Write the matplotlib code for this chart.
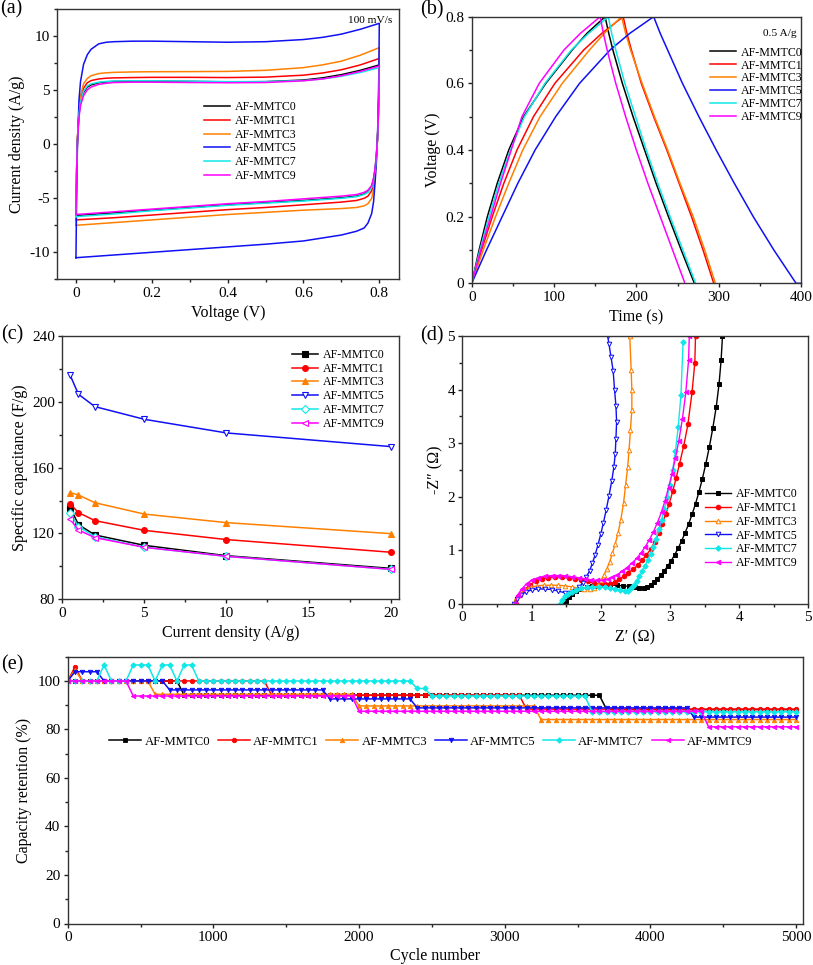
import matplotlib
matplotlib.use('Agg')
import matplotlib.pyplot as plt
from matplotlib.ticker import MultipleLocator, FuncFormatter

plt.rcParams['font.family'] = ['Liberation Serif', 'DejaVu Serif']
plt.rcParams['axes.unicode_minus'] = False

# ---------------- common ----------------
names = ['AF-MMTC0', 'AF-MMTC1', 'AF-MMTC3', 'AF-MMTC5', 'AF-MMTC7', 'AF-MMTC9']
colors = ['#000000', '#FF0000', '#FF8000', '#1010F5', '#10E8E8', '#FF00FF']

# ---------------- (a) CV at 100 mV/s ----------------
cv_v_up = [0.000, 0.002, 0.004, 0.008, 0.012, 0.020, 0.030, 0.040, 0.060, 0.080, 0.100,
           0.150, 0.200, 0.300, 0.400, 0.500, 0.600, 0.650, 0.700, 0.750, 0.800]
cv_v_down = [0.800, 0.799, 0.797, 0.795, 0.792, 0.789, 0.785, 0.780, 0.770, 0.760, 0.740,
             0.700, 0.600, 0.500, 0.400, 0.300, 0.200, 0.100, 0.000]
cv_up_0 = [-6.6, -2.0, 0.5, 2.8, 3.9, 4.8, 5.3, 5.5, 5.7, 5.78, 5.82, 5.85, 5.85, 5.82, 5.78, 5.8, 5.95, 6.15, 6.45, 6.85, 7.35]
cv_up_1 = [-7.0, -2.2, 0.6, 3.0, 4.2, 5.2, 5.7, 5.9, 6.05, 6.12, 6.15, 6.18, 6.2, 6.2, 6.18, 6.22, 6.4, 6.6, 6.9, 7.35, 7.95]
cv_up_3 = [-7.5, -2.5, 0.5, 3.2, 4.5, 5.6, 6.1, 6.35, 6.55, 6.62, 6.66, 6.7, 6.72, 6.73, 6.75, 6.85, 7.1, 7.35, 7.7, 8.25, 8.95]
cv_up_5 = [-10.5, -4.0, 0.0, 4.1, 5.8, 7.4, 8.3, 8.8, 9.3, 9.45, 9.5, 9.55, 9.55, 9.5, 9.45, 9.5, 9.7, 9.9, 10.2, 10.65, 11.2]
cv_up_7 = [-6.7, -2.0, 0.5, 2.8, 3.9, 4.9, 5.4, 5.6, 5.75, 5.82, 5.86, 5.88, 5.88, 5.85, 5.8, 5.8, 5.9, 6.05, 6.3, 6.65, 7.1]
cv_up_9 = [-6.5, -2.1, 0.3, 2.5, 3.6, 4.5, 5.05, 5.3, 5.55, 5.65, 5.72, 5.75, 5.75, 5.72, 5.7, 5.72, 5.88, 6.05, 6.35, 6.75, 7.25]
cv_dn_0 = [7.35, 4.8, 2.0, 0.4, -1.2, -2.3, -3.2, -3.9, -4.4, -4.6, -4.8, -4.95, -5.2, -5.4, -5.6, -5.85, -6.1, -6.35, -6.6]
cv_dn_1 = [7.95, 5.0, 2.0, 0.3, -1.4, -2.6, -3.6, -4.3, -4.8, -5.0, -5.2, -5.35, -5.6, -5.85, -6.05, -6.3, -6.55, -6.8, -7.0]
cv_dn_3 = [8.95, 5.5, 2.2, 0.2, -1.8, -3.0, -4.2, -5.0, -5.5, -5.7, -5.85, -5.95, -6.1, -6.3, -6.5, -6.75, -7.0, -7.25, -7.5]
cv_dn_5 = [11.2, 7.0, 3.0, 0.5, -1.8, -3.5, -5.3, -6.4, -7.3, -7.75, -8.05, -8.4, -8.95, -9.25, -9.5, -9.75, -10.0, -10.25, -10.5]
cv_dn_7 = [7.1, 4.6, 1.9, 0.3, -1.3, -2.4, -3.3, -4.0, -4.45, -4.65, -4.85, -5.0, -5.25, -5.45, -5.65, -5.9, -6.15, -6.45, -6.7]
cv_dn_9 = [7.25, 4.7, 1.9, 0.4, -1.1, -2.2, -3.1, -3.8, -4.25, -4.45, -4.65, -4.8, -5.05, -5.3, -5.5, -5.75, -6.0, -6.25, -6.5]

# ---------------- (b) GCD at 0.5 A/g ----------------
gcd_v_charge = [0.0, 0.1, 0.2, 0.3, 0.4, 0.5, 0.6, 0.7, 0.75, 0.8]
gcd_v_discharge = [0.8, 0.75, 0.7, 0.6, 0.5, 0.4, 0.3, 0.2, 0.1, 0.0]
tc_0 = [0, 9, 19, 31, 45, 63, 90, 122, 140, 162]
tc_1 = [0, 12, 25, 39, 55, 75, 101, 136, 158, 184]
tc_3 = [0, 14, 29, 45, 62, 83, 110, 143, 161, 182]
tc_5 = [0, 18, 37, 56, 77, 102, 131, 168, 192, 221]
tc_7 = [0, 10, 21, 33, 47, 64, 89, 121, 142, 166]
tc_9 = [0, 11, 23, 35, 48, 61, 82, 112, 132, 156]
td_0 = [162, 166.5, 171.5, 183, 196, 210, 224, 239, 254.5, 270.5]
td_1 = [184, 188.5, 194, 206, 221, 237, 252, 267, 281, 294]
td_3 = [182, 187, 193, 207, 222, 238, 253, 269, 283, 296]
td_5 = [221, 229, 238, 256, 276, 297, 319, 342, 367, 394]
td_7 = [166, 170, 175, 186, 199, 212, 226, 241, 256.5, 272]
td_9 = [156, 160, 164.5, 175, 187, 200, 214, 229, 244, 259]
gcd_tail_t = 400   # MMTC5 trace continues at 0 V to the end of the record
gcd_tail_v = 0.0

# ---------------- (c) rate capability ----------------
current_density = [0.5, 1, 2, 5, 10, 20]
cap_0 = [135.7, 125.4, 119.1, 112.8, 106.5, 98.8]
cap_1 = [137.9, 132.7, 127.8, 121.9, 116.3, 108.6]
cap_3 = [144.8, 143.4, 138.7, 131.8, 126.6, 119.9]
cap_5 = [216.1, 204.6, 197.1, 189.4, 181.1, 172.8]
cap_7 = [132.3, 124.2, 118.1, 111.6, 106.1, 98.2]
cap_9 = [128.6, 122.1, 117.5, 111.6, 106.1, 98.2]

# ---------------- (d) Nyquist ----------------
zr_0 = [1.47, 1.50, 1.54, 1.59, 1.65, 1.72, 1.80, 1.88, 1.96, 2.05, 2.14, 2.23, 2.32, 2.41, 2.49, 2.56, 2.62, 2.67, 2.72, 2.77, 2.82,
        2.87, 2.92, 2.97, 3.02, 3.07, 3.12, 3.17, 3.22, 3.27, 3.32, 3.37, 3.42, 3.47, 3.52, 3.57, 3.62, 3.67, 3.71, 3.74, 3.76]
zi_0 = [0.00, 0.06, 0.13, 0.19, 0.24, 0.28, 0.31, 0.33, 0.34, 0.35, 0.35, 0.35, 0.34, 0.33, 0.31, 0.30, 0.30, 0.32, 0.36, 0.41, 0.47,
        0.54, 0.62, 0.71, 0.81, 0.92, 1.04, 1.18, 1.33, 1.49, 1.67, 1.87, 2.09, 2.34, 2.62, 2.93, 3.28, 3.68, 4.10, 4.55, 5.00]
zr_1 = [0.78, 0.83, 0.90, 0.98, 1.06, 1.15, 1.24, 1.34, 1.44, 1.54, 1.63, 1.72, 1.82, 1.91, 1.99, 2.06, 2.13, 2.20, 2.27, 2.34,
        2.40, 2.47, 2.54, 2.60, 2.66, 2.72, 2.78, 2.84, 2.89, 2.94, 2.99, 3.04, 3.09, 3.14, 3.20, 3.26, 3.32, 3.36, 3.37]
zi_1 = [0.00, 0.17, 0.27, 0.36, 0.43, 0.47, 0.49, 0.50, 0.50, 0.49, 0.47, 0.45, 0.42, 0.39, 0.37, 0.37, 0.38, 0.41, 0.46, 0.52,
        0.58, 0.65, 0.73, 0.82, 0.91, 1.02, 1.16, 1.33, 1.50, 1.68, 1.87, 2.10, 2.35, 2.62, 2.95, 3.35, 3.95, 4.50, 5.00]
zr_3 = [0.74, 0.78, 0.84, 0.91, 0.99, 1.08, 1.18, 1.28, 1.38, 1.48, 1.58, 1.67, 1.76, 1.84, 1.91, 1.96, 2.01, 2.05, 2.09, 2.13,
        2.17, 2.21, 2.25, 2.29, 2.33, 2.36, 2.39, 2.41, 2.43, 2.45, 2.45, 2.44, 2.42]
zi_3 = [0.00, 0.12, 0.20, 0.27, 0.31, 0.34, 0.35, 0.35, 0.35, 0.34, 0.32, 0.30, 0.28, 0.28, 0.30, 0.36, 0.45, 0.55, 0.66, 0.79,
        0.95, 1.12, 1.32, 1.57, 1.88, 2.22, 2.55, 2.88, 3.25, 3.62, 4.00, 4.37, 5.00]
zr_5 = [0.75, 0.79, 0.85, 0.92, 1.00, 1.09, 1.19, 1.29, 1.39, 1.48, 1.56, 1.63, 1.69, 1.74, 1.79, 1.84, 1.88, 1.92, 1.96, 2.00,
        2.04, 2.08, 2.12, 2.16, 2.19, 2.21, 2.22, 2.23, 2.22, 2.20, 2.18, 2.15, 2.12, 2.10]
zi_5 = [0.00, 0.10, 0.17, 0.23, 0.26, 0.28, 0.28, 0.27, 0.24, 0.21, 0.20, 0.24, 0.31, 0.40, 0.50, 0.62, 0.76, 0.92, 1.10, 1.30,
        1.52, 1.76, 2.02, 2.30, 2.55, 2.80, 3.08, 3.40, 3.70, 4.00, 4.35, 4.60, 4.85, 5.00]
zr_7 = [1.41, 1.44, 1.48, 1.53, 1.58, 1.65, 1.72, 1.80, 1.88, 1.97, 2.06, 2.14, 2.21, 2.28, 2.35, 2.40, 2.44, 2.48, 2.52, 2.56,
        2.60, 2.64, 2.68, 2.72, 2.76, 2.80, 2.84, 2.88, 2.92, 2.96, 3.00, 3.04, 3.08, 3.12, 3.16, 3.19]
zi_7 = [0.00, 0.08, 0.14, 0.19, 0.23, 0.27, 0.29, 0.31, 0.32, 0.32, 0.32, 0.30, 0.28, 0.26, 0.24, 0.25, 0.29, 0.35, 0.43, 0.52,
        0.61, 0.71, 0.82, 0.94, 1.07, 1.22, 1.39, 1.57, 1.77, 1.99, 2.22, 2.50, 2.85, 3.30, 3.90, 4.88]
zr_9 = [0.76, 0.80, 0.86, 0.93, 1.01, 1.10, 1.19, 1.29, 1.39, 1.49, 1.58, 1.68, 1.77, 1.86, 1.95, 2.03, 2.10, 2.17, 2.24, 2.31,
        2.38, 2.45, 2.52, 2.58, 2.64, 2.70, 2.76, 2.82, 2.88, 2.93, 2.98, 3.03, 3.08, 3.13, 3.18, 3.23, 3.27, 3.28]
zi_9 = [0.00, 0.17, 0.28, 0.38, 0.45, 0.49, 0.52, 0.53, 0.53, 0.52, 0.51, 0.49, 0.47, 0.45, 0.44, 0.44, 0.46, 0.50, 0.55, 0.61,
        0.68, 0.76, 0.85, 0.95, 1.06, 1.19, 1.34, 1.52, 1.72, 1.93, 2.17, 2.43, 2.72, 3.05, 3.45, 3.95, 4.55, 5.00]

# ---------------- (e) cycling, one point every 50 cycles ----------------
cycles = list(range(0, 5001, 50))
ret_0 = [100] * 16 + [94.1] * 58 + [88.2] * 27
ret_1 = [100, 105.8] + [100] * 26 + [94.1] * 35 + [88.4] * 38
ret_3 = [100, 104.6] + [100] * 10 + [94.5] * 28 + [89.7] * 25 + [84.1] * 36
ret_5 = [100] + [103.8] * 4 + [100] * 9 + [96.3] * 22 + [92.6] * 12 + [88.9] * 38 + [85.1] * 15
ret_7 = ([100] * 5 + [106.6] + [100] * 3 + [106.6] * 3 + [100] + [106.6] * 2 + [100] + [106.6] * 2
         + [100] * 30 + [96.9] * 2 + [93.8] * 22 + [87.3] * 29)
ret_9 = [100] * 9 + [93.8] * 31 + [87.5] * 48 + [81.1] * 13

# ======================================================================
fig = plt.figure(figsize=(8.13, 9.65), dpi=100)
W, H = 813.0, 965.0


def add_ax(l, t, r, b):
    return fig.add_axes([l / W, 1 - b / H, (r - l) / W, (b - t) / H])


fmt = FuncFormatter(lambda v, p: '%g' % round(v, 6))
TICK_FS = 11
LAB_FS = 11.5
LEG_FS = 8.6


def style(ax, xmaj, xmin, ymaj, ymin):
    ax.xaxis.set_major_locator(MultipleLocator(xmaj))
    ax.xaxis.set_minor_locator(MultipleLocator(xmin))
    ax.yaxis.set_major_locator(MultipleLocator(ymaj))
    ax.yaxis.set_minor_locator(MultipleLocator(ymin))
    ax.xaxis.set_major_formatter(fmt)
    ax.yaxis.set_major_formatter(fmt)
    ax.tick_params(which='both', direction='out', top=False, right=False,
                   labelsize=TICK_FS, pad=2, color='#222222', width=1.0)
    ax.tick_params(which='major', length=3.2)
    ax.tick_params(which='minor', length=1.9)
    for s in ax.spines.values():
        s.set_linewidth(1.0)
        s.set_color('#333333')


def legend(ax, x, y, **kw):
    opts = dict(loc='upper left', bbox_to_anchor=(x, y), frameon=False, fontsize=LEG_FS,
                handlelength=2.2, handletextpad=0.4, labelspacing=0.15, borderpad=0, borderaxespad=0)
    opts.update(kw)
    ax.legend(**opts)


# (a)
axa = add_ax(57, 9.3, 399, 279.3)
cv_up = [cv_up_0, cv_up_1, cv_up_3, cv_up_5, cv_up_7, cv_up_9]
cv_dn = [cv_dn_0, cv_dn_1, cv_dn_3, cv_dn_5, cv_dn_7, cv_dn_9]
for n, c, u, d in zip(names, colors, cv_up, cv_dn):
    axa.plot(cv_v_up + cv_v_down, u + d, color=c, lw=1.1, label=n)
axa.set_xlim(-0.05, 0.852)
axa.set_ylim(-12.5, 12.5)
style(axa, 0.2, 0.1, 5, 2.5)
axa.set_xlabel('Voltage (V)', fontsize=LAB_FS, labelpad=4)
axa.set_ylabel('Current density (A/g)', fontsize=LAB_FS, labelpad=3)
axa.text(0.98, 0.975, '100 mV/s', transform=axa.transAxes, ha='right', va='top', fontsize=8.2)
legend(axa, 0.43, 0.66)

# (b)
axb = add_ax(471.7, 16.7, 801, 283.3)
tcs = [tc_0, tc_1, tc_3, tc_5, tc_7, tc_9]
tds = [td_0, td_1, td_3, td_5, td_7, td_9]
for i, (n, c, tc, td) in enumerate(zip(names, colors, tcs, tds)):
    t = tc + td
    v = gcd_v_charge + gcd_v_discharge
    if n == 'AF-MMTC5':
        t = t + [gcd_tail_t]
        v = v + [gcd_tail_v]
    axb.plot(t, v, color=c, lw=1.1, label=n)
axb.set_xlim(0, 400)
axb.set_ylim(0, 0.8)
style(axb, 100, 50, 0.2, 0.1)
axb.set_xlabel('Time (s)', fontsize=LAB_FS, labelpad=4)
axb.set_ylabel('Voltage (V)', fontsize=LAB_FS, labelpad=3)
axb.text(0.988, 0.955, '0.5 A/g', transform=axb.transAxes, ha='right', va='top', fontsize=8.2)
legend(axb, 0.724, 0.888, labelspacing=0.08)

# (c)
axc = add_ax(62, 336, 399, 599.3)
caps = [cap_0, cap_1, cap_3, cap_5, cap_7, cap_9]
c_markers = ['s', 'o', '^', 'v', 'D', '<']
c_filled = [True, True, True, False, False, False]
for n, c, y, m, f in zip(names, colors, caps, c_markers, c_filled):
    axc.plot(current_density, y, color=c, lw=1.1, marker=m, ms=4.2 if m != 'D' else 3.6,
             mfc=c if f else 'white', mec=c, mew=0.8, label=n)
axc.set_xlim(0, 20.5)
axc.set_ylim(80, 240)
style(axc, 5, 2.5, 40, 20)
axc.set_xlabel('Current density (A/g)', fontsize=LAB_FS, labelpad=4)
axc.set_ylabel('Specific capacitance (F/g)', fontsize=LAB_FS, labelpad=3)
legend(axc, 0.682, 0.951)

# (d)
axd = add_ax(462.3, 336, 808.3, 604)
zrs = [zr_0, zr_1, zr_3, zr_5, zr_7, zr_9]
zis = [zi_0, zi_1, zi_3, zi_5, zi_7, zi_9]
d_markers = ['s', 'o', '^', 'v', 'D', '<']
d_filled = [True, True, False, False, True, True]
for n, c, x, y, m, f in zip(names, colors, zrs, zis, d_markers, d_filled):
    axd.plot(x, y, color=c, lw=1.0, marker=m, ms=3.3 if m != 'D' else 2.8,
             mfc=c if f else 'white', mec=c, mew=0.7, label=n)
axd.set_xlim(0, 5)
axd.set_ylim(0, 5)
style(axd, 1, 0.5, 1, 0.5)
axd.set_xlabel('Z\u2032 (\u03a9)', fontsize=LAB_FS, labelpad=4)
axd.set_ylabel('-Z\u2033 (\u03a9)', fontsize=LAB_FS, labelpad=3)
legend(axd, 0.702, 0.432)

# (e)
axe = add_ax(67.7, 656.7, 802.7, 923.5)
rets = [ret_0, ret_1, ret_3, ret_5, ret_7, ret_9]
e_markers = ['s', 'o', '^', 'v', 'D', '<']
for n, c, y, m in zip(names, colors, rets, e_markers):
    axe.plot(cycles, y, color=c, lw=1.1, marker=m, ms=3.2 if m != 'D' else 2.8,
             mfc=c, mec=c, mew=0.6, label=n)
axe.set_xlim(0, 5046)
axe.set_ylim(0, 110)
style(axe, 1000, 500, 20, 10)
axe.set_xlabel('Cycle number', fontsize=LAB_FS, labelpad=3)
axe.set_ylabel('Capacity retention (%)', fontsize=LAB_FS, labelpad=4)
axe.legend(loc='center', bbox_to_anchor=(0.494, 0.681), ncol=6, frameon=False, fontsize=9.2,
           handlelength=2.5, handletextpad=0.25, columnspacing=0.6, borderpad=0)

# panel letters
for lab, x, y in [('(a)', 0, 9), ('(b)', 420, 10), ('(c)', 1, 335), ('(d)', 420, 336), ('(e)', 1, 665)]:
    fig.text(x / W, 1 - y / H, lab, fontsize=14.5, ha='left', va='center')

fig.savefig('out.png', dpi=100)
